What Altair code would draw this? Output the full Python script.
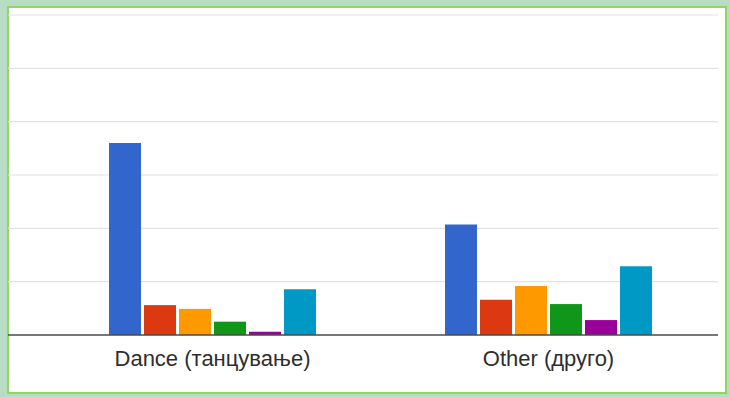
import altair as alt
import pandas as pd

# Categories and series
categories = ["Dance (танцување)", "Other (друго)"]
series = ["1", "2", "3", "4", "5", "6"]
colors = ["#3366cc", "#dc3912", "#ff9900", "#109618", "#990099", "#0099c6"]

# Bar heights per category, one value per series
dance_values = [36.0, 5.6, 4.9, 2.5, 0.6, 8.6]
other_values = [20.7, 6.6, 9.2, 5.8, 2.8, 12.9]

# Horizontal gridline positions
grid_values = [10, 20, 30, 40, 50, 60]

rows = []
for cat, vals in zip(categories, [dance_values, other_values]):
    for s, v in zip(series, vals):
        rows.append({"category": cat, "series": s, "value": v})
bars_df = pd.DataFrame(rows)
grid_df = pd.DataFrame({"v": grid_values})
base_df = pd.DataFrame({"v": [0]})
label_df = pd.DataFrame({"category": categories})

y_scale = alt.Scale(domain=[0, 60], range=[328, 8])
x_scale = alt.Scale(domain=categories, range=[36.5, 708.5], paddingInner=0, paddingOuter=0)

grid = alt.Chart(grid_df).mark_rule(color="#e2e2e2", strokeWidth=1.2).encode(
    y=alt.Y("v:Q", scale=y_scale, axis=None),
    x=alt.value(0),
    x2=alt.value(710),
)

bars = alt.Chart(bars_df).mark_bar().encode(
    x=alt.X("category:N", scale=x_scale, axis=None),
    xOffset=alt.XOffset(
        "series:N",
        scale=alt.Scale(domain=series, range=[64.5, 271.5], paddingInner=0.086, paddingOuter=0),
    ),
    y=alt.Y("value:Q", scale=y_scale, axis=None),
    color=alt.Color("series:N", scale=alt.Scale(domain=series, range=colors), legend=None),
)

baseline = alt.Chart(base_df).mark_rule(color="#4a4a4a", strokeWidth=1.5).encode(
    y=alt.Y("v:Q", scale=y_scale, axis=None),
    x=alt.value(0),
    x2=alt.value(710),
)

labels = alt.Chart(label_df).mark_text(
    font="Liberation Sans", fontSize=22, color="#2e2e2e", baseline="middle", align="center"
).encode(
    x=alt.X("category:N", scale=x_scale, axis=None, bandPosition=0.5),
    y=alt.value(352),
    text="category:N",
)

chart = alt.layer(grid, bars, baseline, labels).properties(
    width=718,
    height=386,
    padding={"left": 8, "top": 7, "right": 4, "bottom": 4},
    autosize=alt.AutoSizeParams(type="none"),
    background="#b8dcc4",
).configure_view(
    fill="white", stroke="#8fd660", strokeWidth=2
)

chart.save("out.html", embed_options={"renderer": "svg", "actions": False})
